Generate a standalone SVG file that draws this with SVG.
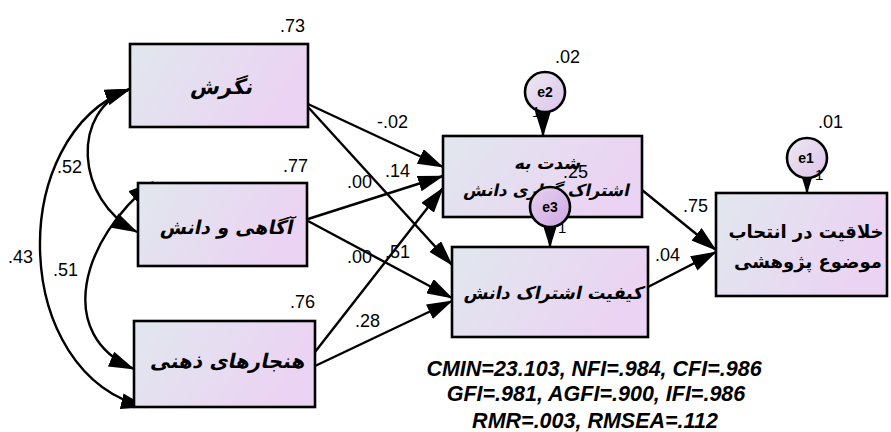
<svg xmlns="http://www.w3.org/2000/svg" width="891" height="432" viewBox="0 0 891 432">
<defs>
<linearGradient id="boxg" x1="0" y1="0" x2="1" y2="0.3">
<stop offset="0" stop-color="#e1e7ee"/>
<stop offset="1" stop-color="#ebd3f3"/>
</linearGradient>
<linearGradient id="cg" x1="0" y1="0" x2="1" y2="1">
<stop offset="0" stop-color="#eeeaf2"/>
<stop offset="1" stop-color="#dcc2ea"/>
</linearGradient>
<linearGradient id="cg3" x1="0" y1="0" x2="1" y2="1">
<stop offset="0" stop-color="#e6d3f0"/>
<stop offset="1" stop-color="#cfa6e3"/>
</linearGradient>
<marker id="ah" markerUnits="userSpaceOnUse" viewBox="0 0 26 16" markerWidth="26" markerHeight="16" refX="25" refY="8" orient="auto-start-reverse">
<path d="M0,0 L26,8 L0,16 z" fill="#000"/>
</marker>
</defs>
<style>
.box{fill:url(#boxg);stroke:#000;stroke-width:2.6}
.err{stroke:#000;stroke-width:2.6}
.lbl{font-family:"DejaVu Sans",sans-serif;font-weight:bold;font-size:19px;fill:#000;text-anchor:middle}
.lblu{font-family:"DejaVu Sans",sans-serif;font-weight:bold;font-size:18px;fill:#000;text-anchor:middle}
.num{font-family:"Liberation Sans",Arial,sans-serif;font-size:18px;fill:#000}
.one{font-family:"Liberation Sans",Arial,sans-serif;font-size:15px;fill:#000}
.en{font-family:"Liberation Sans",Arial,sans-serif;font-weight:bold;font-size:14px;fill:#000;text-anchor:middle}
.stat{font-family:"Liberation Sans",Arial,sans-serif;font-weight:bold;font-style:italic;font-size:21.5px;fill:#000;text-anchor:middle}
.c{fill:none;stroke:#000;stroke-width:2.4}
</style>

<g id="connectors">
<path class="c" d="M130,89 C70,110 75,200 137,232" marker-start="url(#ah)" marker-end="url(#ah)"/>
<path class="c" d="M130,89 C5,135 10,375 146,407" marker-start="url(#ah)" marker-end="url(#ah)"/>
<path class="c" d="M153,182 C80,240 55,335 134,369" marker-start="url(#ah)" marker-end="url(#ah)"/>
<path class="c" d="M308,104 L443,167" marker-end="url(#ah)"/>
<path class="c" d="M308,107 L452,265" marker-end="url(#ah)"/>
<path class="c" d="M308,219 L443,176" marker-end="url(#ah)"/>
<path class="c" d="M308,221 L452,298" marker-end="url(#ah)"/>
<path class="c" d="M315,352 L443,188" marker-end="url(#ah)"/>
<path class="c" d="M315,366 L452,301" marker-end="url(#ah)"/>
<path class="c" d="M642,190 L716,250" marker-end="url(#ah)"/>
<path class="c" d="M648,287 L716,252" marker-end="url(#ah)"/>
<path class="c" d="M543,108 L543,136" marker-end="url(#ah)"/>
<path class="c" d="M550,222 L550,247" marker-end="url(#ah)"/>
<path class="c" d="M807,170 L807,193" marker-end="url(#ah)"/>
</g>

<g id="n1">
<rect class="box" x="130" y="44" width="178" height="83"/>
<text class="lbl" transform="translate(221,94) skewX(-12)" style="font-size:21px">نگرش</text>
<text class="num" x="280" y="32">.73</text>
</g>
<g id="n2">
<rect class="box" x="138" y="183" width="169" height="83"/>
<text class="lbl" transform="translate(226,234) skewX(-12)" style="font-size:19px">آگاهی و دانش</text>
<text class="num" x="283" y="172">.77</text>
</g>
<g id="n3">
<rect class="box" x="134" y="321" width="181" height="86"/>
<text class="lbl" transform="translate(227,368) skewX(-12)" style="font-size:20px">هنجارهای ذهنی</text>
<text class="num" x="290" y="308">.76</text>
</g>
<g id="n4">
<rect class="box" x="443" y="136" width="199" height="81"/>
<text class="lbl" transform="translate(547,169) skewX(-12)" style="font-size:17px">شدت به</text>
<text class="lbl" transform="translate(546,196) skewX(-12)" style="font-size:16.5px">اشتراک گذاری دانش</text>
</g>
<g id="n5">
<rect class="box" x="452" y="247" width="196" height="90"/>
<text class="lbl" transform="translate(553,299) skewX(-12)" style="font-size:17.5px">کیفیت اشتراک دانش</text>
</g>
<g id="n6">
<rect class="box" x="716" y="193" width="171" height="103"/>
<text class="lblu" x="806" y="238">خلاقیت در انتحاب</text>
<text class="lblu" x="808" y="268">موضوع پژوهشی</text>
</g>
<g id="e2">
<circle class="err" cx="545" cy="92" r="20" fill="url(#cg)"/>
<text class="en" x="545" y="97">e2</text>
<text class="one" x="532" y="117">1</text>
<text class="num" x="555" y="63">.02</text>
</g>
<g id="e3">
<circle class="err" cx="550" cy="207" r="20" fill="url(#cg3)"/>
<text class="en" x="550" y="212">e3</text>
<text class="one" x="558" y="233">1</text>
<text class="num" x="563" y="178">.25</text>
</g>
<g id="e1">
<circle class="err" cx="807" cy="158" r="20" fill="url(#cg)"/>
<text class="en" x="806" y="163">e1</text>
<text class="one" x="815" y="180">1</text>
<text class="num" x="818" y="128">.01</text>
</g>

<g id="labels">
<text class="num" x="377" y="128">-.02</text>
<text class="num" x="385" y="177">.14</text>
<text class="num" x="347" y="188">.00</text>
<text class="num" x="347" y="263">.00</text>
<text class="num" x="385" y="258">.51</text>
<text class="num" x="355" y="327">.28</text>
<text class="num" x="683" y="212">.75</text>
<text class="num" x="655" y="261">.04</text>
<text class="num" x="8" y="263">.43</text>
<text class="num" x="53" y="276">.51</text>
<text class="num" x="57" y="173">.52</text>
</g>
<g id="fit">
<text class="stat" x="594" y="376">CMIN=23.103, NFI=.984, CFI=.986</text>
<text class="stat" x="596" y="401">GFI=.981, AGFI=.900, IFI=.986</text>
<text class="stat" x="595" y="428">RMR=.003, RMSEA=.112</text>
</g>
</svg>
